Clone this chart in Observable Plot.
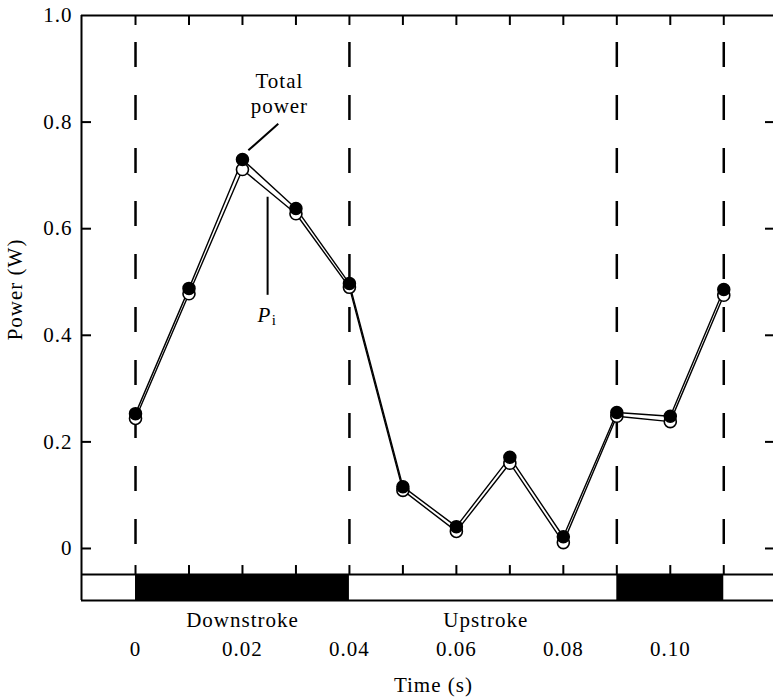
<!DOCTYPE html>
<html><head><meta charset="utf-8">
<script src="https://cdn.jsdelivr.net/npm/d3@7"></script>
<script src="https://cdn.jsdelivr.net/npm/@observablehq/plot@0.6"></script>
<style>
body{margin:0;background:#fff}
#chart svg text{letter-spacing:1px}
</style></head><body><div id="chart"></div>
<script>
// Data
const time = [0, 0.01, 0.02, 0.03, 0.04, 0.05, 0.06, 0.07, 0.08, 0.09, 0.10, 0.11];
const totalPower = [0.253, 0.488, 0.730, 0.638, 0.497, 0.116, 0.041, 0.171, 0.022, 0.255, 0.248, 0.486];
const indicatedPower = [0.244, 0.478, 0.711, 0.628, 0.490, 0.109, 0.032, 0.160, 0.011, 0.248, 0.238, 0.475];
const yTicks = [0, 0.2, 0.4, 0.6, 0.8, 1.0];
const xLabelTicks = [0, 0.02, 0.04, 0.06, 0.08, 0.10];
const minorTicks = [0, 0.01, 0.02, 0.03, 0.04, 0.05, 0.06, 0.07, 0.08, 0.09, 0.10, 0.11];
const strokeBoundaries = [0, 0.04, 0.09, 0.11];
const downstrokes = [{start: 0, end: 0.04}, {start: 0.09, end: 0.11}];
const phaseLabels = [{label: "Downstroke", t: 0.02}, {label: "Upstroke", t: 0.0655}];
const xDomain = [-0.0101, 0.1193];
const yDomain = [-0.0976, 1.0];
const bandTop = -0.0488;
const bandTickTop = -0.032;
const totalLabel = [{text: "Total\npower", t: 0.0269, p: 0.855}];
const totalLeader = [{t1: 0.0267, p1: 0.797, t2: 0.0211, p2: 0.747}];
const piLeader = [{t: 0.0247, p1: 0.659, p2: 0.475}];
const piLabel = [{t: 0.0241, p: 0.437}];
const xTitle = [{text: "Time (s)", t: 0.0557}];
const yTitle = [{text: "Power (W)", p: 0.486}];

const rows = time.map((t, i) => ({t, total: totalPower[i], pi: indicatedPower[i]}));

const W = 773, H = 697, mL = 81, mR = 0, mT = 15, mB = 97;
const fw = W - mL - mR, fh = H - mT - mB;

const chart = Plot.plot({
  width: W, height: H,
  marginLeft: mL, marginRight: mR, marginTop: mT, marginBottom: mB,
  style: {fontFamily: "'Liberation Serif', 'Times New Roman', serif", fontSize: "21px", background: "white", color: "black"},
  x: {domain: xDomain, axis: null},
  y: {domain: yDomain, axis: null},
  marks: [
    // stroke-phase band
    Plot.rect(downstrokes, {x1: "start", x2: "end", y1: yDomain[0], y2: bandTop, fill: "black"}),
    Plot.ruleY([bandTop, yDomain[0], yDomain[1]], {stroke: "black", strokeWidth: 2}),
    Plot.ruleX([xDomain[0]], {stroke: "black", strokeWidth: 2}),
    Plot.ruleX(minorTicks, {x: d => d, y1: bandTop, y2: bandTickTop, stroke: "black", strokeWidth: 2}),
    // top ticks
    Plot.tickX(minorTicks, {x: d => d, insetBottom: fh - 10, stroke: "black", strokeWidth: 2}),
    // left & right inward ticks
    Plot.tickY(yTicks.filter(v => v < 1), {y: d => d, insetRight: fw - 10, stroke: "black", strokeWidth: 2}),
    Plot.tickY(yTicks.filter(v => v < 1), {y: d => d, insetLeft: fw - 8, stroke: "black", strokeWidth: 2}),
    // dashed phase boundaries (drawn from the top down)
    Plot.ruleX(strokeBoundaries, {x: d => d, y1: 1, y2: 0, stroke: "black", strokeWidth: 2.5,
      strokeDasharray: "25,28", strokeDashoffset: 26}),
    // data lines
    Plot.line(rows, {x: "t", y: "pi", stroke: "black", strokeWidth: 1.4}),
    Plot.line(rows, {x: "t", y: "total", stroke: "black", strokeWidth: 1.4}),
    Plot.dot(rows, {x: "t", y: "pi", r: 6, fill: "white", stroke: "black", strokeWidth: 1.6}),
    Plot.dot(rows, {x: "t", y: "total", r: 6, fill: "black", stroke: "black"}),
    // annotations
    Plot.text(totalLabel, {x: "t", y: "p", text: "text", lineHeight: 1.2, fill: "black"}),
    Plot.link(totalLeader, {x1: "t1", y1: "p1", x2: "t2", y2: "p2", stroke: "black", strokeWidth: 2}),
    Plot.ruleX(piLeader, {x: "t", y1: "p1", y2: "p2", stroke: "black", strokeWidth: 2}),
    Plot.text(piLabel, {x: "t", y: "p", text: () => "P", fontStyle: "italic", fill: "black"}),
    Plot.text(piLabel, {x: "t", y: "p", text: () => "i", dx: 10, dy: 5, fontSize: 15, fill: "black"}),
    // axes labels
    Plot.axisY(yTicks, {anchor: "left", tickSize: 0, tickPadding: 9, label: null,
      tickFormat: d => d === 0 ? "0" : d.toFixed(1), fill: "black"}),
    Plot.axisX(xLabelTicks, {anchor: "bottom", tickSize: 0, tickPadding: 41, label: null,
      tickFormat: d => d === 0 ? "0" : d.toFixed(2), fill: "black"}),
    Plot.text(phaseLabels, {x: "t", text: "label", frameAnchor: "bottom", dy: 20, lineAnchor: "middle", fill: "black"}),
    Plot.text(xTitle, {x: "t", text: "text", frameAnchor: "bottom", dy: 85, lineAnchor: "middle", fill: "black"}),
    Plot.text(yTitle, {y: "p", text: "text", frameAnchor: "left", textAnchor: "middle", dx: -66, rotate: -90, fill: "black"})
  ]
});
document.getElementById("chart").appendChild(chart);
</script>
</body></html>
